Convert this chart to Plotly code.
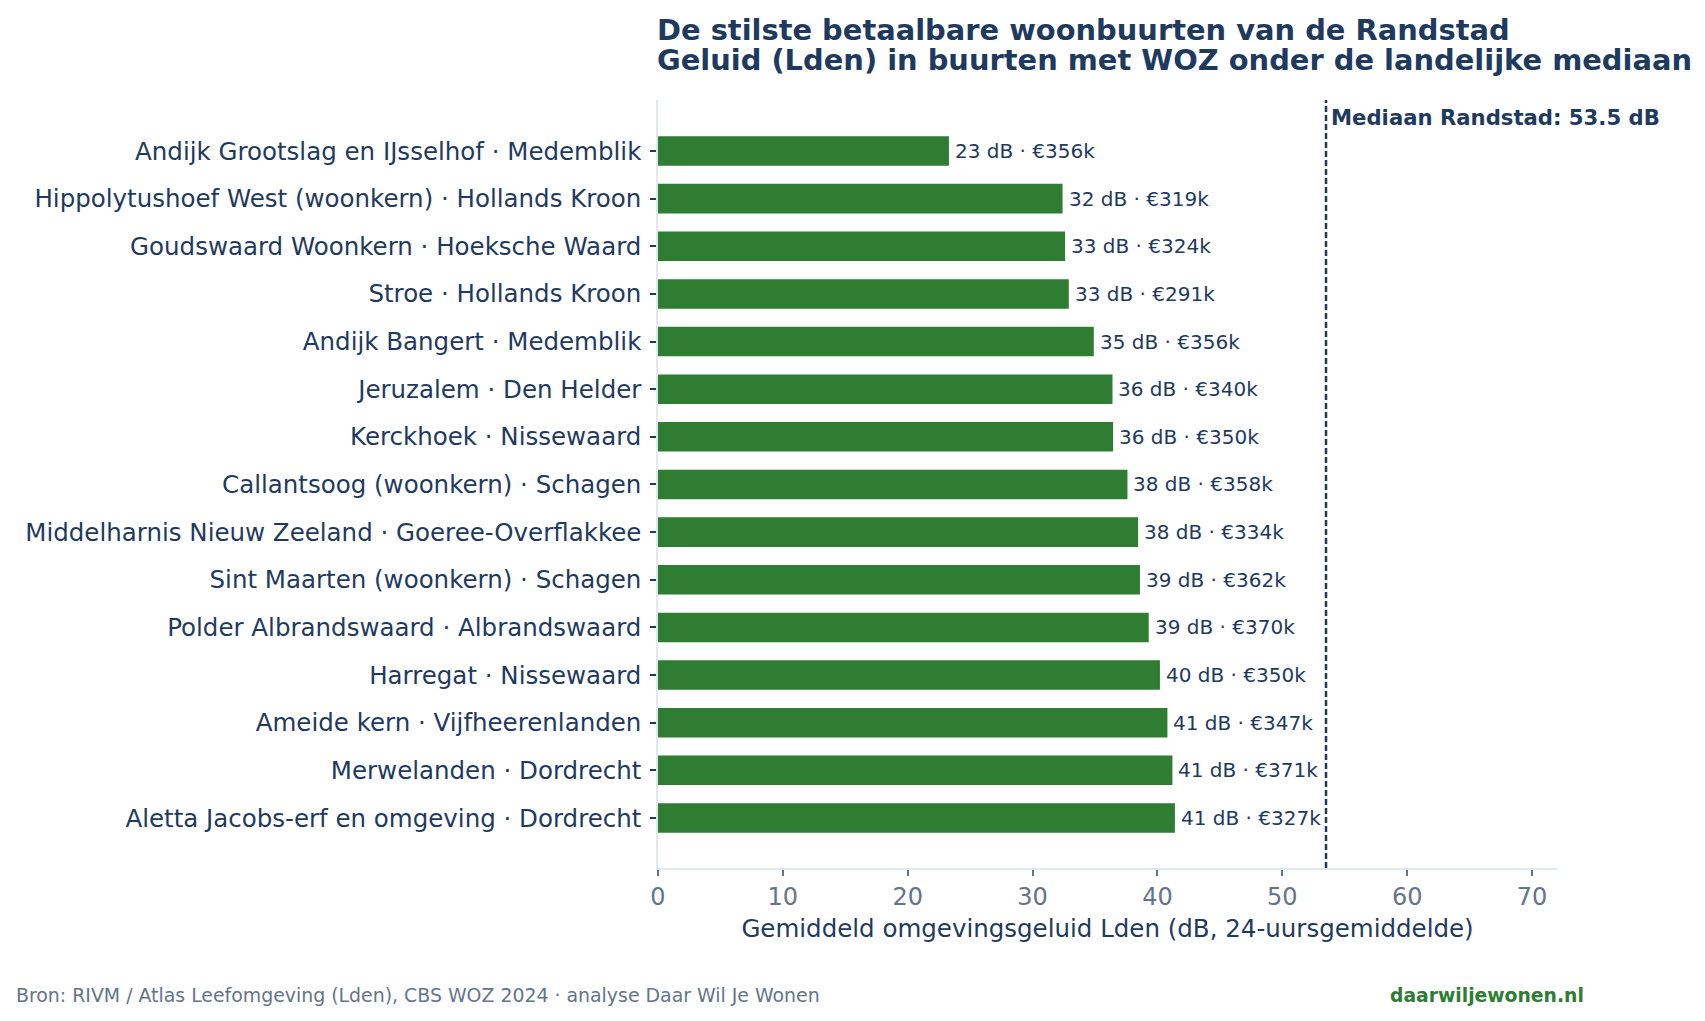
import plotly.graph_objects as go

buurten = [
    "Andijk Grootslag en IJsselhof · Medemblik",
    "Hippolytushoef West (woonkern) · Hollands Kroon",
    "Goudswaard Woonkern · Hoeksche Waard",
    "Stroe · Hollands Kroon",
    "Andijk Bangert · Medemblik",
    "Jeruzalem · Den Helder",
    "Kerckhoek · Nissewaard",
    "Callantsoog (woonkern) · Schagen",
    "Middelharnis Nieuw Zeeland · Goeree-Overflakkee",
    "Sint Maarten (woonkern) · Schagen",
    "Polder Albrandswaard · Albrandswaard",
    "Harregat · Nissewaard",
    "Ameide kern · Vijfheerenlanden",
    "Merwelanden · Dordrecht",
    "Aletta Jacobs-erf en omgeving · Dordrecht",
]
lden_db = [23.3, 32.4, 32.6, 32.9, 34.9, 36.4, 36.45, 37.6, 38.45, 38.6, 39.3, 40.2, 40.8, 41.2, 41.4]
woz_k = [356, 319, 324, 291, 356, 340, 350, 358, 334, 362, 370, 350, 347, 371, 327]
mediaan_randstad = 53.5

NAVY = "#1f3a5f"
GREEN = "#2e7d32"
GRAY = "#64748b"
SPINE = "#e2e8f0"
FONT = "DejaVu Sans"

labels = [f"{round(v)} dB · €{w}k" for v, w in zip(lden_db, woz_k)]

fig = go.Figure()
fig.add_trace(go.Bar(
    x=lden_db, y=buurten, orientation="h",
    marker=dict(color=GREEN, line=dict(width=0)),
    width=0.62,
    cliponaxis=False, hoverinfo="skip",
))

for v, naam, lab in zip(lden_db, buurten, labels):
    fig.add_annotation(xref="x", yref="y", x=v, y=naam, xanchor="left", yanchor="middle",
                       xshift=4, text=lab, showarrow=False,
                       font=dict(family=FONT, size=20, color=NAVY))

fig.add_shape(type="line", xref="x", yref="paper", x0=mediaan_randstad, x1=mediaan_randstad,
              y0=0, y1=1, line=dict(color=NAVY, width=2.5, dash="6px,3px"))
fig.add_annotation(xref="x", yref="paper", x=mediaan_randstad, y=0.979, xanchor="left", yanchor="middle",
                   xshift=3, yshift=-1, text="<b>Mediaan Randstad: 53.5 dB</b>", showarrow=False,
                   font=dict(family=FONT, size=21.2, color=NAVY))

W, H = 1705, 1021
L, R, T, B = 658, 1705 - 1557, 100, 1021 - 868
ph = H - T - B
pw = W - L - R

def ypaper(py):
    return (H - B - py) / ph

fig.add_annotation(xref="paper", yref="paper", x=0, y=ypaper(30), xanchor="left", yanchor="middle",
                   xshift=-3.5, text="<b>De stilste betaalbare woonbuurten van de Randstad</b>", showarrow=False,
                   font=dict(family=FONT, size=28.9, color=NAVY))
fig.add_annotation(xref="paper", yref="paper", x=0, y=ypaper(60.5), xanchor="left", yanchor="middle",
                   xshift=-3.5, text="<b>Geluid (Lden) in buurten met WOZ onder de landelijke mediaan</b>", showarrow=False,
                   font=dict(family=FONT, size=28.9, color=NAVY))
fig.add_annotation(xref="paper", yref="paper", x=(14 - L) / pw, y=ypaper(995), xanchor="left",
                   yanchor="middle", text="Bron: RIVM / Atlas Leefomgeving (Lden), CBS WOZ 2024 · analyse Daar Wil Je Wonen",
                   showarrow=False, font=dict(family=FONT, size=18.9, color=GRAY))
fig.add_annotation(xref="paper", yref="paper", x=(1586 - L) / pw, y=ypaper(995), xanchor="right",
                   yanchor="middle", text="<b>daarwiljewonen.nl</b>",
                   showarrow=False, font=dict(family=FONT, size=18.75, color=GREEN))

fig.update_layout(
    width=W, height=H,
    margin=dict(l=L, r=R, t=T, b=B, autoexpand=False),
    paper_bgcolor="white", plot_bgcolor="white",
    showlegend=False,
    font=dict(family=FONT, color=NAVY),
    xaxis=dict(range=[0, 72], tickvals=[0, 10, 20, 30, 40, 50, 60, 70],
               showgrid=False, zeroline=False, showline=True, linecolor=SPINE, linewidth=1.5,
               ticks="outside", ticklen=6, tickwidth=1.5, tickcolor=GRAY,
               tickfont=dict(family=FONT, size=24, color=GRAY),
               title=dict(text="Gemiddeld omgevingsgeluid Lden (dB, 24-uursgemiddelde)",
                          font=dict(family=FONT, size=24.5, color=NAVY), standoff=10)),
    yaxis=dict(range=[15.05, -1.07], type="category", categoryorder="array", categoryarray=buurten,
               showgrid=False, zeroline=False, showline=True, linecolor=SPINE, linewidth=1.5,
               ticks="outside", ticklen=6, tickwidth=1.5, tickcolor=NAVY, ticklabelstandoff=4,
               tickfont=dict(family=FONT, size=24.5, color=NAVY)),
)

fig.write_html("out.html")
